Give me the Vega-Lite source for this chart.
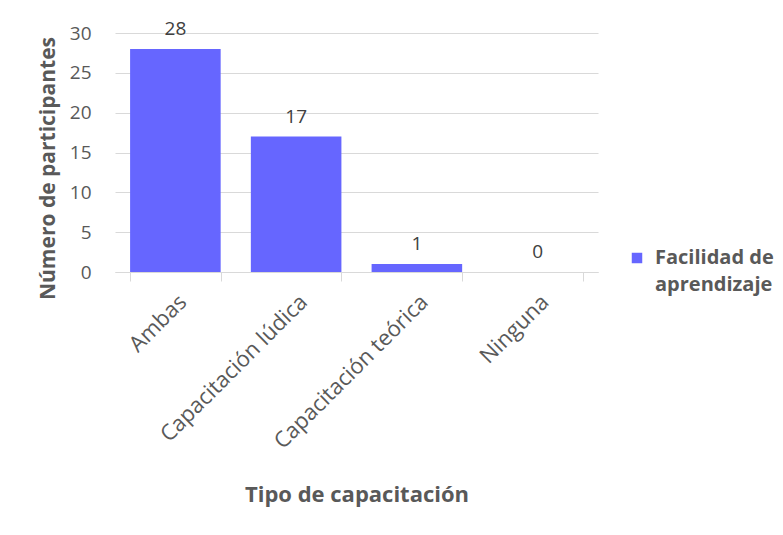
{
  "$schema": "https://vega.github.io/schema/vega-lite/v6.json",
  "autosize": {"type": "none"},
  "width": 483,
  "height": 239,
  "padding": {"left": 115, "top": 33, "right": 185, "bottom": 263},
  "background": "white",
  "config": {
    "font": "Open Sans",
    "view": {"stroke": null},
    "style": {"guide-label": {"lineHeight": 27}},
    "axis": {"labelColor": "#595959", "titleColor": "#595959", "labelFont": "Open Sans", "titleFont": "Open Sans"}
  },
  "data": {
    "values": [
      {"tipo": "Ambas", "valor": 28, "serie": "Facilidad de aprendizaje"},
      {"tipo": "Capacitación lúdica", "valor": 17, "serie": "Facilidad de aprendizaje"},
      {"tipo": "Capacitación teórica", "valor": 1, "serie": "Facilidad de aprendizaje"},
      {"tipo": "Ninguna", "valor": 0, "serie": "Facilidad de aprendizaje"}
    ]
  },
  "encoding": {
    "x": {
      "field": "tipo", "type": "nominal", "sort": null,
      "scale": {"paddingInner": 0.25, "paddingOuter": 0.125},
      "axis": {
        "title": "Tipo de capacitación", "titleFontSize": 22, "titleFontWeight": "bold",
        "titlePadding": 32,
        "labelAngle": -45, "labelFontSize": 22, "labelPadding": 10,
        "tickBand": "extent", "tickSize": 9, "tickColor": "#d9d9d9", "domainColor": "#d9d9d9",
        "grid": false, "labelLimit": 300
      }
    },
    "y": {
      "field": "valor", "type": "quantitative",
      "scale": {"domain": [0, 30], "nice": false},
      "axis": {
        "title": "Número de participantes", "titleFontSize": 21, "titleFontWeight": "bold",
        "values": [0, 5, 10, 15, 20, 25, 30],
        "labelFontSize": 19, "labelPadding": 24, "titlePadding": 11, "titleY": 135,
        "ticks": false, "domain": false, "gridColor": "#d9d9d9"
      }
    }
  },
  "layer": [
    {
      "mark": {"type": "bar", "color": "#6666FF"},
      "encoding": {
        "color": {
          "field": "serie", "type": "nominal",
          "scale": {"range": ["#6666FF"]},
          "legend": {
            "title": null, "orient": "none", "legendX": 512, "legendY": 215,
            "symbolType": "square", "symbolSize": 110, "symbolStrokeWidth": 0,
            "labelFontSize": 20, "labelFontWeight": "bold", "labelColor": "#595959",
            "labelFont": "Open Sans", "labelLimit": 300, "labelOffset": 8,
            "labelExpr": "['Facilidad de', 'aprendizaje']"
          }
        }
      }
    },
    {
      "mark": {"type": "text", "baseline": "alphabetic", "dy": -14, "fontSize": 19, "color": "#404040", "font": "Open Sans"},
      "encoding": {"text": {"field": "valor", "type": "quantitative"}}
    }
  ]
}
